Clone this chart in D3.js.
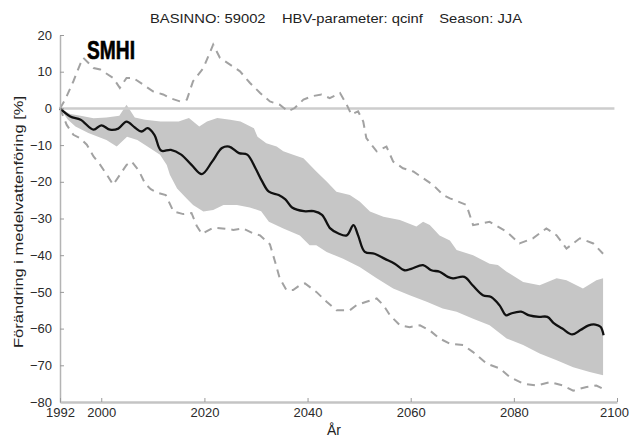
<!DOCTYPE html>
<html>
<head>
	<title></title>
	<script src="https://d3js.org/d3.v7.min.js"></script>
	<style>
		body { margin: 0; background: #fff; }
		text { font-family: "Liberation Sans", Arial, sans-serif; }
	</style>
</head>
<body>
	<div id='chart'></div>
	<script type="text/javascript">
		//data.........................................

		var title = 'BASINNO: 59002    HBV-parameter: qcinf    Season: JJA';
		var yLabel = 'Förändring i medelvattenföring [%]';
		var xLabel = 'År';
		var xTicks = [1992, 2000, 2020, 2040, 2060, 2080, 2100];
		var yTicks = [20, 10, 0, -10, -20, -30, -40, -50, -60, -70, -80];

		// ensemble mean
		var meanYears = [1992, 1994, 1996, 1998.5, 2000, 2001.7, 2003.3, 2004.9, 2006.5, 2007.8, 2009, 2010.3, 2011.6, 2013.5, 2015.5, 2017.5, 2019.5, 2021.5, 2023.4, 2024.8, 2026.7, 2028.3, 2029.9, 2031.2, 2032.5, 2034.4, 2035.7, 2037, 2039.3, 2041.2, 2042.8, 2044.4, 2046, 2047.6, 2048.9, 2049.8, 2051.1, 2053, 2055, 2056.9, 2058.8, 2060.1, 2062.4, 2064, 2065.6, 2067.2, 2068.2, 2070.4, 2072, 2074, 2075.6, 2077.2, 2078.5, 2079.4, 2081.4, 2083, 2084.9, 2086.5, 2087.8, 2089.4, 2091.3, 2092.9, 2094.5, 2095.8, 2096.8, 2097.4];
		var meanVals = [0, -2.2, -3.1, -5.8, -4.6, -5.8, -5.5, -3.6, -5.2, -6.3, -5.4, -7.2, -11.5, -11.3, -12.6, -15.4, -17.9, -14.5, -10.8, -10.4, -12.2, -12.6, -16.3, -19.9, -22.7, -23.6, -24.8, -27, -28, -28, -29, -32.7, -34.1, -34.6, -31.8, -34.6, -39.1, -39.6, -41, -42.3, -44.1, -43.7, -42.7, -44.1, -44.5, -45.9, -46.3, -45.9, -48.2, -50.9, -51.4, -53.6, -56.4, -55.9, -55.4, -56.4, -56.8, -56.8, -58.6, -60, -61.6, -60.4, -59.1, -58.9, -59.5, -61.8];

		// grey band, upper edge
		var bandUpYears = [1992, 1994, 1996, 1998.5, 2001, 2003.5, 2004.9, 2006.5, 2008.5, 2011.5, 2015, 2017, 2019, 2020.5, 2022.5, 2025, 2027, 2029.6, 2030.3, 2032, 2034, 2035.3, 2037.2, 2039.2, 2041.7, 2043.7, 2045.6, 2048.2, 2050.1, 2052.1, 2054.7, 2057.9, 2061.1, 2062.4, 2063.7, 2065.6, 2067.6, 2068.9, 2072.1, 2075.3, 2076.9, 2078.6, 2081.8, 2085, 2088.3, 2090.2, 2093.4, 2096, 2097.3];
		var bandUpVals = [0, -1.5, -2, -2.7, -2.5, -2, 1, -2.5, -3.1, -3.6, -3.6, -2.6, -4.9, -3.6, -2.6, -3.1, -3.6, -5.4, -7.7, -9.5, -10.4, -11.7, -12.6, -13.6, -17.2, -19.9, -22.7, -23.6, -25.4, -28.1, -29.5, -30.4, -32.2, -30.9, -31.8, -34.6, -36, -38.6, -40, -42.3, -42.7, -44.5, -47.3, -48.2, -46.3, -46.8, -49.1, -46.8, -46.3];

		// grey band, lower edge
		var bandLoYears = [1992, 1993.5, 1995, 1997.5, 2001, 2003, 2005, 2007, 2009.4, 2011.4, 2012.7, 2013.3, 2014.7, 2016.5, 2017.8, 2019.8, 2021.7, 2023.7, 2026.3, 2028.8, 2031, 2032.5, 2035.3, 2038.5, 2040.4, 2041.7, 2043.7, 2046.9, 2050.1, 2053.4, 2056.6, 2059.8, 2063.1, 2066.2, 2068.9, 2072.1, 2075.3, 2078.6, 2081.8, 2085, 2088.3, 2091.5, 2094.7, 2097.3];
		var bandLoVals = [0, -3, -4.9, -6.7, -8.6, -10.4, -7.7, -8.6, -10.8, -12.6, -15.4, -18.1, -21.8, -24.5, -26.3, -28.1, -27.7, -26.3, -26.3, -27, -28, -30.9, -32.7, -34.6, -37.3, -37.3, -39.1, -41, -43.2, -46.3, -49.1, -50.9, -52.7, -54.5, -55.4, -57.3, -59.1, -62.7, -64.5, -66.8, -68.6, -70.5, -71.8, -72.7];

		// dashed max
		var maxYears = [1992, 1993, 1994.6, 1995.9, 1996.5, 1998.5, 1999.8, 2002.3, 2003.6, 2004.9, 2006.2, 2008.1, 2010.1, 2012, 2013.3, 2015.3, 2016.6, 2017.8, 2019.8, 2021.7, 2023, 2024.9, 2026.9, 2028.8, 2030.8, 2032.7, 2034.6, 2036.2, 2037.5, 2039.2, 2040.8, 2042.7, 2044.3, 2046.3, 2047.6, 2048.5, 2049.8, 2050.8, 2051.4, 2053.4, 2055.3, 2056.6, 2058.5, 2060.5, 2062.4, 2064.3, 2066.3, 2067.6, 2070.8, 2072.1, 2075.3, 2078.6, 2081.1, 2083.7, 2086.3, 2088.3, 2090.2, 2092.8, 2095.4, 2097.3];
		var maxVals = [0, 2.4, 7.4, 12, 13.8, 11, 10.6, 8.3, 5.6, 8.3, 8.3, 6.5, 4.6, 3.8, 2.8, 1.9, 2.4, 7.4, 11, 17.4, 13.8, 12, 10.1, 7, 4.2, 1.9, 1, -0.8, 0.1, 2.4, 3.3, 3.8, 2.8, 4.2, 1, -1.7, -0.8, -3.6, -8.1, -11.7, -10.4, -14.5, -16.3, -17.2, -19, -20.8, -23.6, -24.5, -26.3, -31.8, -30.9, -33.6, -36.8, -35.4, -32.7, -34.6, -38.2, -35.4, -36.8, -39.6];

		// dashed min
		var minYears = [1992, 1993.3, 1994.6, 1995.9, 1997.2, 1998.5, 1999.8, 2001.1, 2002.3, 2003.6, 2004.9, 2005.9, 2007.3, 2008.5, 2009.6, 2010.9, 2012.5, 2014, 2015.9, 2017.5, 2018.5, 2019.5, 2021.7, 2023.5, 2025.6, 2027.5, 2029.5, 2030.8, 2032.7, 2033.7, 2034.6, 2035.9, 2037.2, 2038.5, 2039.5, 2041.7, 2043.7, 2045.6, 2048.2, 2049.5, 2051.4, 2053.4, 2054.7, 2056, 2057.9, 2059.8, 2061.8, 2063.7, 2065.6, 2067.6, 2070.2, 2072.1, 2074.7, 2077.3, 2079.2, 2081.8, 2084.4, 2087, 2089.5, 2091.5, 2094.1, 2096, 2097.3];
		var minVals = [0, -4.5, -7.2, -8.1, -9.9, -13.1, -15.4, -18.1, -20.8, -18.1, -15.4, -14.5, -17, -20.5, -22, -23, -23.6, -28.1, -28.8, -28.5, -32, -34.2, -32.5, -32.7, -33.1, -32.7, -34.1, -34.6, -37, -41.8, -46.3, -49.5, -49.5, -48.2, -47.7, -50, -52.7, -55, -55, -53.6, -52.7, -51.8, -53.6, -56.4, -59.1, -59.6, -59.1, -60.5, -62.7, -64.1, -64.5, -66.4, -69.5, -70.9, -73.2, -75, -75.5, -74.6, -75.5, -76.9, -75.9, -75.5, -76.4];

		//layout.........................................

		var W = 630, H = 437;
		var plotL = 60, plotR = 617, plotT = 35, plotB = 402;

		var xScale = d3.scaleLinear()
					   .domain([1992, 2100])
					   .range([plotL, plotR]);

		var yScale = d3.scaleLinear()
					   .domain([-80, 20])
					   .range([plotB, plotT]);

		var svg = d3.select('#chart').append('svg')
					.attr('width', W)
					.attr('height', H)
					.style('background', '#fff');

		var line = d3.line()
					 .x(d => xScale(d[0]))
					 .y(d => yScale(d[1]));

		//band.........................................

		var up = d3.zip(bandUpYears, bandUpVals);
		var lo = d3.zip(bandLoYears, bandLoVals).reverse();

		svg.append('path')
		   .attr('d', line(up.concat(lo)) + 'Z')
		   .style('fill', '#c6c6c6')
		   .style('stroke', 'none');

		//zero line.........................................

		svg.append('line')
		   .attr('x1', xScale(1992))
		   .attr('x2', xScale(2099.5))
		   .attr('y1', yScale(0))
		   .attr('y2', yScale(0))
		   .style('stroke', '#cdcdcd')
		   .style('stroke-width', 2.5);

		//dashed max/min.........................................

		[[maxYears, maxVals], [minYears, minVals]].forEach(function(s) {
			svg.append('path')
			   .attr('d', line(d3.zip(s[0], s[1])))
			   .style('fill', 'none')
			   .style('stroke', '#a2a2a2')
			   .style('stroke-width', 2)
			   .style('stroke-dasharray', '8,6');
		});

		//mean line.........................................

		var smooth = d3.line()
					   .curve(d3.curveCatmullRom.alpha(0.5))
					   .x(d => xScale(d[0]))
					   .y(d => yScale(d[1]));

		svg.append('path')
		   .attr('d', smooth(d3.zip(meanYears, meanVals)))
		   .style('fill', 'none')
		   .style('stroke', '#111')
		   .style('stroke-width', 2.3)
		   .style('stroke-linejoin', 'round');

		//axes.........................................

		var yAxis = d3.axisLeft(yScale)
					  .tickValues(yTicks)
					  .tickSize(-4)
					  .tickPadding(8)
					  .tickSizeOuter(0);

		var yGuide = svg.append('g')
						.attr('transform', 'translate(' + plotL + ',0)')
						.call(yAxis);

		var xAxis = d3.axisBottom(xScale)
					  .tickValues(xTicks)
					  .tickFormat(d3.format('d'))
					  .tickSize(-4)
					  .tickPadding(6)
					  .tickSizeOuter(0);

		var xGuide = svg.append('g')
						.attr('transform', 'translate(0,' + plotB + ')')
						.call(xAxis);

		[yGuide, xGuide].forEach(function(g) {
			g.select('.domain').style('stroke', '#b4b4b4').style('stroke-width', 1.5);
			g.selectAll('line').style('stroke', '#9a9a9a');
			g.selectAll('text')
			 .style('font-size', '13px')
			 .style('fill', '#2a2a2a')
			 .style('font-family', '"Liberation Sans", Arial, sans-serif');
		});
		xGuide.select('.domain').style('stroke-width', 2.5).style('stroke', '#c4c4c4');
		// keep the last label inside the picture
		xGuide.selectAll('.tick text').filter(d => d === 2100).attr('dx', '-3');

		//texts.........................................

		svg.append('text')
		   .attr('x', 336)
		   .attr('y', 23)
		   .attr('text-anchor', 'middle')
		   .attr('textLength', 372)
		   .attr('lengthAdjust', 'spacingAndGlyphs')
		   .style('white-space', 'pre')
		   .style('font-size', '13px')
		   .style('fill', '#222')
		   .text(title);

		svg.append('text')
		   .attr('transform', 'translate(23,' + 222 + ') rotate(-90)')
		   .attr('text-anchor', 'middle')
		   .attr('textLength', 252)
		   .attr('lengthAdjust', 'spacingAndGlyphs')
		   .style('font-size', '13px')
		   .style('fill', '#222')
		   .text(yLabel);

		svg.append('text')
		   .attr('x', 334)
		   .attr('y', 435)
		   .attr('text-anchor', 'middle')
		   .style('font-size', '14px')
		   .style('fill', '#222')
		   .text(xLabel);

		// logo
		svg.append('text')
		   .attr('x', 87)
		   .attr('y', 59)
		   .attr('textLength', 48)
		   .attr('lengthAdjust', 'spacingAndGlyphs')
		   .style('font-size', '25px')
		   .style('font-weight', 'bold')
		   .style('fill', '#000')
		   .style('stroke', '#000')
		   .style('stroke-width', 0.6)
		   .text('SMHI');
	</script>
</body>
</html>
